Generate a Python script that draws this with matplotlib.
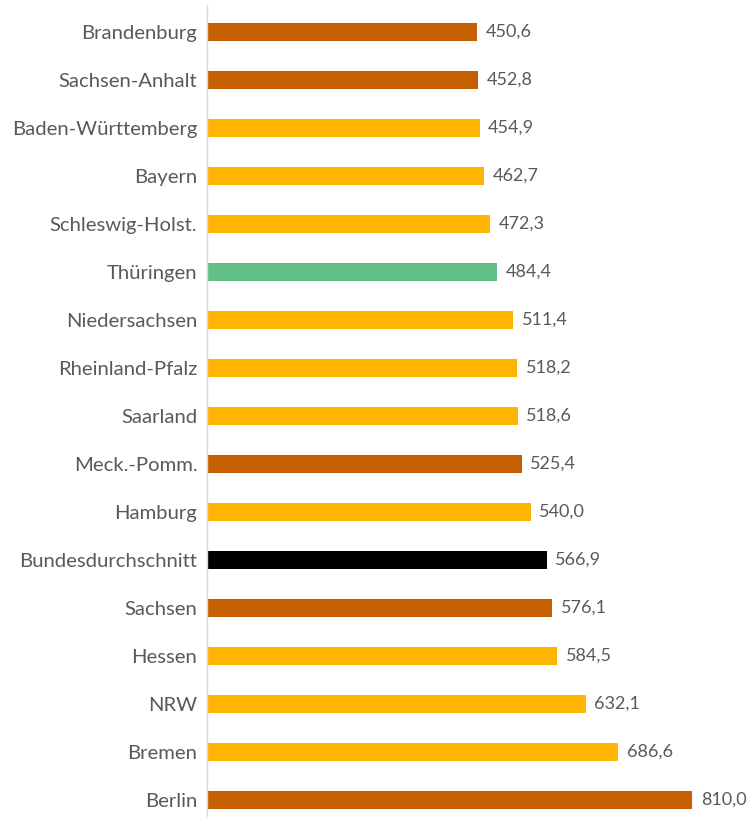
import matplotlib.pyplot as plt

laender = ["Brandenburg", "Sachsen-Anhalt", "Baden-Württemberg", "Bayern",
           "Schleswig-Holst.", "Thüringen", "Niedersachsen", "Rheinland-Pfalz",
           "Saarland", "Meck.-Pomm.", "Hamburg", "Bundesdurchschnitt",
           "Sachsen", "Hessen", "NRW", "Bremen", "Berlin"]
werte = [450.6, 452.8, 454.9, 462.7, 472.3, 484.4, 511.4, 518.2,
         518.6, 525.4, 540.0, 566.9, 576.1, 584.5, 632.1, 686.6, 810.0]
gruppe = ["ost", "ost", "west", "west", "west", "thue", "west", "west",
          "west", "ost", "west", "bund", "ost", "west", "west", "west", "ost"]

farben = {"ost": "#C55F00", "west": "#FFB500", "thue": "#62BF85", "bund": "#000000"}

plt.rcParams["font.family"] = ["Lato", "DejaVu Sans"]

fig = plt.figure(figsize=(7.55, 8.17), dpi=100)
W, H = 755, 817
ax = fig.add_axes([207 / W, 0, 538 / W, 812 / H])

pos = list(range(len(laender)))
ax.barh(pos, werte, height=0.375, color=[farben[g] for g in gruppe])

for p, v in zip(pos, werte):
    ax.text(v + 14, p, f"{v:.1f}".replace(".", ","), va="center", ha="left",
            fontsize=13, color="#595959")

ax.set_yticks(pos)
ax.set_yticklabels(laender, fontsize=14.6, color="#595959")
ax.tick_params(axis="y", length=0, pad=7)
ax.set_ylim(16.354, -0.5625)
ax.set_xlim(0, 898)
ax.set_xticks([])

for s in ["top", "right", "bottom"]:
    ax.spines[s].set_visible(False)
ax.spines["left"].set_color("#D9D9D9")
ax.spines["left"].set_linewidth(1)

fig.savefig("out.png", dpi=100)
